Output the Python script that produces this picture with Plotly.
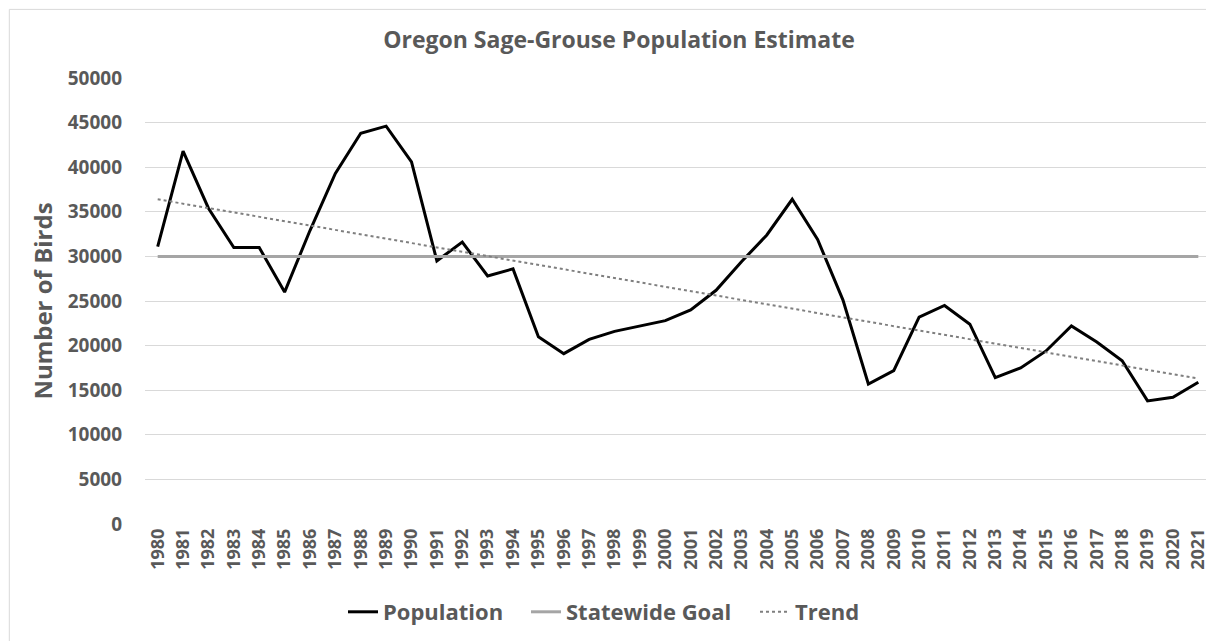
import plotly.graph_objects as go

years = list(range(1980, 2022))
population = [31100, 41800, 35400, 31000, 31000, 26000, 32900, 39300, 43800, 44600,
              40600, 29500, 31600, 27800, 28600, 21000, 19100, 20700, 21600, 22200,
              22800, 24000, 26200, 29400, 32400, 36400, 31900, 25100, 15700, 17200,
              23200, 24500, 22400, 16400, 17500, 19400, 22200, 20400, 18300, 13800,
              14200, 15900]
goal_value = 30000
goal = [goal_value] * len(years)
trend_years = [1980, 2021]
trend_values = [36400, 16300]
y_ticks = list(range(0, 50001, 5000))

TXT = "#595959"
FONT = "Open Sans"

# page body adds an 8px offset; figure coordinates = page coordinates - 8
OFF = 8
W, H = 1214 - OFF, 641 - OFF
L, R = 145 - OFF, 3
T = 78 - OFF
B = H - (524.5 - OFF)
pw, ph = W - L - R, H - T - B

fig = go.Figure()
fig.add_trace(go.Scatter(x=years, y=population, mode="lines", name="Population",
                         line=dict(color="black", width=3), legend="legend"))
fig.add_trace(go.Scatter(x=years, y=goal, mode="lines", name="Statewide Goal",
                         line=dict(color="#a5a5a5", width=3), legend="legend2"))
fig.add_trace(go.Scatter(x=trend_years, y=trend_values, mode="lines", name="Trend",
                         line=dict(color="#7f7f7f", width=2, dash="dot"), legend="legend3"))

legfont = dict(family=FONT, size=22, color=TXT, weight="bold")
leg_y = 1 - (612 - OFF) / H


def leg(px):
    return dict(orientation="h", x=(px - OFF) / W, xanchor="left", xref="container",
                y=leg_y, yref="container", yanchor="middle", font=legfont,
                itemwidth=30, bgcolor="rgba(0,0,0,0)")


fig.update_layout(
    width=W, height=H,
    margin=dict(l=L, r=R, t=T, b=B),
    paper_bgcolor="white", plot_bgcolor="white",
    title=dict(text="Oregon Sage-Grouse Population Estimate", x=(619 - OFF) / W,
               xref="container", xanchor="center", y=1 - (40 - OFF) / H,
               yanchor="middle",
               font=dict(family=FONT, size=23, color=TXT, weight="bold")),
    xaxis=dict(range=[1979.5, 2021.5], tickmode="array", tickvals=years,
               ticktext=[str(y) for y in years], tickangle=-90,
               showgrid=False, zeroline=False, showline=False, ticks="",
               tickfont=dict(family=FONT, size=18, color=TXT, weight="bold")),
    yaxis=dict(range=[0, 50000], tickmode="array", tickvals=y_ticks,
               ticktext=[str(v) for v in y_ticks], showgrid=True,
               gridcolor="#d9d9d9", gridwidth=1, zeroline=False, showline=False,
               ticks="", ticklabelstandoff=22,
               tickfont=dict(family=FONT, size=19, color=TXT, weight="bold"),
               title=dict(text="Number of Birds", standoff=8,
                          font=dict(family=FONT, size=24, color=TXT, weight="bold"))),
    legend=leg(343),
    legend2=leg(526),
    legend3=leg(755),
    showlegend=True,
)

fig.add_shape(type="rect", xref="paper", yref="paper",
              x0=(9.3 - 145) / pw, x1=(1230 - 145) / pw,
              y0=-(660 - 524.5) / ph, y1=1 + (78 - 9.3) / ph,
              line=dict(color="#d9d9d9", width=1), fillcolor="rgba(0,0,0,0)",
              layer="below")

fig.write_html("out.html")
